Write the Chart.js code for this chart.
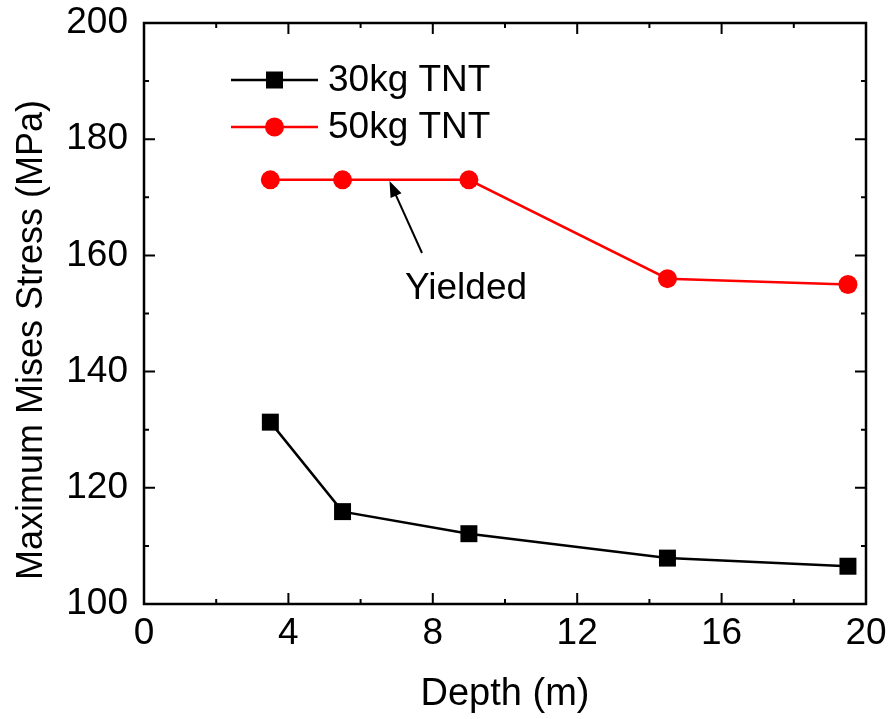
<!DOCTYPE html>
<html>
<head>
<meta charset="utf-8">
<script src="https://cdn.jsdelivr.net/npm/chart.js@4"></script>
<style>
  body { margin: 0; background: #fff; }
  #wrap { width: 888px; height: 719px; }
</style>
</head>
<body>
<div id="wrap"><canvas id="stressChart"></canvas></div>
<script>
const depth = [3.5, 5.5, 9, 14.5, 19.5];
const stress30 = [131.3, 115.9, 112.1, 107.9, 106.5];
const stress50 = [173, 173, 173, 156, 155];
const xTicks = [0, 4, 8, 12, 16, 20];
const yTicks = [100, 120, 140, 160, 180, 200];
const yTitle = 'Maximum Mises Stress (MPa)';

const FONT = 'Liberation Sans, Arial, sans-serif';
const FS = 37;

// frame, inward ticks, y title, legend and arrow note
const decor = {
  id: 'decor',
  afterDraw(chart) {
    const c = chart.ctx;
    const a = chart.chartArea;
    const x = chart.scales.x, y = chart.scales.y;
    c.save();
    c.strokeStyle = '#000';
    c.lineWidth = 2.5;
    c.strokeRect(a.left, a.top, a.right - a.left, a.bottom - a.top);

    c.lineWidth = 2;
    c.beginPath();
    for (let v = 0; v <= 20; v += 2) {
      const px = x.getPixelForValue(v);
      const len = v % 4 === 0 ? 11 : 5;
      c.moveTo(px, a.bottom); c.lineTo(px, a.bottom - len);
      c.moveTo(px, a.top); c.lineTo(px, a.top + len);
    }
    for (let v = 100; v <= 200; v += 10) {
      const py = y.getPixelForValue(v);
      const len = v % 20 === 0 ? 11 : 5;
      c.moveTo(a.left, py); c.lineTo(a.left + len, py);
      c.moveTo(a.right, py); c.lineTo(a.right - len, py);
    }
    c.stroke();

    // y axis title (sits a bit below the axis centre in the original)
    c.save();
    c.translate(42, 340);
    c.rotate(-Math.PI / 2);
    c.font = '36px ' + FONT;
    c.fillStyle = '#000';
    c.textAlign = 'center';
    c.textBaseline = 'alphabetic';
    c.fillText(yTitle, 0, 0);
    c.restore();

    // legend
    const items = [
      { label: '30kg TNT', color: '#000', shape: 'rect' },
      { label: '50kg TNT', color: '#ff0000', shape: 'circle' }
    ];
    c.font = FS + 'px ' + FONT;
    c.textBaseline = 'middle';
    items.forEach((it, i) => {
      const ly = 80 + i * 47;
      c.strokeStyle = it.color;
      c.fillStyle = it.color;
      c.lineWidth = 2.5;
      c.beginPath(); c.moveTo(231, ly); c.lineTo(318, ly); c.stroke();
      if (it.shape === 'rect') {
        c.fillRect(266, ly - 8.5, 17, 17);
      } else {
        c.beginPath(); c.arc(274.5, ly, 9.5, 0, Math.PI * 2); c.fill();
      }
      c.fillStyle = '#000';
      c.textAlign = 'left';
      c.fillText(it.label, 328, ly + 1);
    });

    // annotation arrow
    const tipX = x.getPixelForValue(6.8), tipY = y.getPixelForValue(172.8);
    const tailX = 422, tailY = 253;
    const ang = Math.atan2(tipY - tailY, tipX - tailX);
    c.strokeStyle = '#000';
    c.fillStyle = '#000';
    c.lineWidth = 2;
    c.beginPath();
    c.moveTo(tailX, tailY);
    c.lineTo(tipX - 10 * Math.cos(ang), tipY - 10 * Math.sin(ang));
    c.stroke();
    c.beginPath();
    c.moveTo(tipX, tipY);
    c.lineTo(tipX - 16 * Math.cos(ang) + 6 * Math.sin(ang), tipY - 16 * Math.sin(ang) - 6 * Math.cos(ang));
    c.lineTo(tipX - 16 * Math.cos(ang) - 6 * Math.sin(ang), tipY - 16 * Math.sin(ang) + 6 * Math.cos(ang));
    c.closePath();
    c.fill();
    c.textAlign = 'left';
    c.fillText('Yielded', 405, 289);
    c.restore();
  }
};

const ctx = document.getElementById('stressChart').getContext('2d');

let stressChart = new Chart(ctx, {
  type: 'scatter',
  data: {
    datasets: [{
      label: '30kg TNT',
      data: depth.map((d, i) => ({ x: d, y: stress30[i] })),
      showLine: true,
      borderColor: '#000',
      backgroundColor: '#000',
      borderWidth: 2.5,
      pointStyle: 'rect',
      pointRadius: 12,
      pointBorderWidth: 0
    }, {
      label: '50kg TNT',
      data: depth.map((d, i) => ({ x: d, y: stress50[i] })),
      showLine: true,
      borderColor: '#ff0000',
      backgroundColor: '#ff0000',
      borderWidth: 2.5,
      pointStyle: 'circle',
      pointRadius: 9.5,
      pointBorderWidth: 0
    }]
  },
  options: {
    responsive: true,
    maintainAspectRatio: false,
    animation: false,
    events: [],
    layout: { padding: { top: 23, right: 22, left: 0, bottom: 0 } },
    plugins: { legend: { display: false }, tooltip: { enabled: false } },
    scales: {
      x: {
        type: 'linear',
        min: 0, max: 20,
        afterBuildTicks: s => { s.ticks = xTicks.map(v => ({ value: v })); },
        afterFit: s => { s.height = 115; s.paddingLeft = 0; s.paddingRight = 0; },
        grid: { display: false, drawTicks: false },
        border: { display: false },
        ticks: { color: '#000', font: { size: FS, family: FONT }, padding: 8 },
        title: { display: true, text: 'Depth (m)', color: '#000', font: { size: 38, family: FONT }, padding: { top: 0, bottom: 2 } }
      },
      y: {
        type: 'linear',
        min: 100, max: 200,
        afterBuildTicks: s => { s.ticks = yTicks.map(v => ({ value: v })); },
        afterFit: s => { s.width = 144; s.paddingTop = 0; s.paddingBottom = 0; },
        grid: { display: false, drawTicks: false },
        border: { display: false },
        ticks: { color: '#000', font: { size: FS, family: FONT }, padding: 16 },
        title: { display: false }
      }
    }
  },
  plugins: [decor]
});
</script>
</body>
</html>
